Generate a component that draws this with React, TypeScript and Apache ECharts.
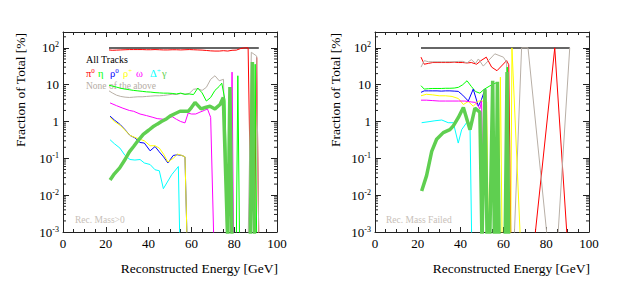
import React, { useEffect, useRef } from 'react';
import * as echarts from 'echarts';

// value used for an empty bin (drawn below the log axis floor)
const Z = 0.0005;

const xTickStep = 20;
const yMin = 0.001;
const yMax = 270;

// ---------- Left panel: Rec. Mass>0 ----------
const leftAll: [number, number][] = [[21.5, 100], [91.5, 100]];
const leftPi0: [number, number][] = [[21.5,88],[23,86],[25,87],[27,88],[29,89],[31,90],[33,90],[35,90],[37,90],[39,89],[41,89],[43,90],[45,89],[47,88],[49,88],[51,89],[53,89],[55,88],[57,89],[59,90],[61,89],[63,88],[65,87],[67,85],[69,83],[71,82],[73,82],[75,84],[77,82],[79,86],[81,87],[83,96],[85,100],[86.5,100],[88,Z],[89.5,Z],[90.5,55],[91.5,Z]];
const leftNone: [number, number][] = [[21.5,6.8],[23,6.0],[25,5.2],[27,4.8],[29,4.6],[31,4.5],[33,4.6],[35,4.7],[37,4.7],[39,4.8],[41,4.9],[43,5.0],[45,5.0],[47,5.1],[49,5.3],[51,5.5],[53,5.4],[55,5.8],[57,5.5],[59,5.8],[61,7.5],[63,7.8],[65,7.0],[67,8.5],[69,14],[71,17.5],[73,12.8],[75,14],[76.5,Z],[86.5,Z],[88,76],[90.5,60],[91.5,Z]];
const leftEta: [number, number][] = [[21.5,9.7],[23,9.2],[25,8.6],[27,8.0],[29,7.6],[31,7.3],[33,7.0],[35,6.8],[37,6.6],[39,6.4],[41,6.3],[43,6.1],[45,6.0],[47,5.9],[49,5.9],[51,5.8],[53,5.6],[55,5.9],[57,5.5],[59,5.6],[61,5.4],[63,8.1],[65,6.0],[67,3.6],[69,4.5],[71,7.0],[73,9.0],[74.2,11],[75.7,3.8],[77,Z],[81,Z],[81.7,17.5],[82.5,Z],[89,Z],[89.8,36],[90.5,Z]];
const leftRho0: [number, number][] = [[22,1.4],[24,1.1],[26.6,0.84],[29,0.6],[31.3,0.42],[33.6,0.36],[36,0.27],[38,0.26],[40.7,0.16],[43,0.21],[45,0.15],[47,0.11],[49,0.075],[51.5,0.12],[53.5,0.125],[55.5,0.12],[57,0.11],[58,Z]];
const leftRhoP: [number, number][] = [[22,1.3],[24,1.0],[26.6,0.8],[29,0.58],[31.3,0.42],[33.6,0.37],[36,0.33],[38,0.3],[40.7,0.22],[43,0.22],[45,0.19],[47,0.13],[49,0.08],[51.5,0.1],[53.5,0.13],[55.5,0.12],[57,0.11],[58,Z]];
const leftOmega: [number, number][] = [[22,3.2],[25,2.7],[28,2.3],[31,2.0],[33,1.9],[36,1.6],[39,1.45],[42,1.3],[44,1.2],[47,1.15],[49,1.25],[51,1.36],[53,1.15],[55,1.0],[57,0.92],[58.5,1.7],[60,1.6],[62,1.6],[64,1.8],[66,2.0],[67.5,2.2],[69,1.3],[70.5,Z],[78.3,Z],[79,22],[79.7,Z]];
const leftDelta: [number, number][] = [[22,0.32],[24,0.25],[26.6,0.19],[29,0.12],[31.3,0.093],[33.6,0.09],[36,0.093],[38,0.075],[40.7,0.068],[43,0.049],[45,0.046],[46.9,0.015],[50.8,0.036],[53.9,0.06],[54.6,Z]];
const leftGamma: [number, number][] = [[22,0.026],[24,0.038],[26.5,0.055],[29,0.093],[31,0.15],[33,0.21],[35,0.3],[37.5,0.45],[40,0.58],[42,0.72],[44,0.85],[46,1.0],[48,1.15],[50,1.4],[52,1.6],[54.7,1.9],[56.5,1.9],[58.5,1.9],[60,2.4],[61.7,3.3],[64.5,2.2],[66.5,2.4],[68.7,2.6],[71,2.2],[73.4,2.9],[74.9,4.5],[77,Z],[78,8.6],[79,Z],[87.5,Z],[88.5,41],[89.5,Z]];

// ---------- Right panel: Rec. Mass Failed ----------
const rightAll: [number, number][] = [[21.5, 100], [91, 100]];
const rightPi0: [number, number][] = [[21.5,56],[23,36],[25,38],[27,40],[29,40],[31,40],[33,40],[35,40],[37,41],[39,40],[41,40],[43,39],[45,40],[47.5,36],[49.5,45],[52,56],[54.5,30],[57,24],[61.5,45],[62.5,35],[63.5,Z],[74,0.0003],[84,100],[90,0.00044]];
const rightNone: [number, number][] = [[21.5,30],[23,45],[25,42],[27,42],[29,42],[31,42],[33,42],[35,42],[37,42],[39,43],[41,43],[43,39],[45,48],[47,38],[48.3,50],[50.6,32],[53,45],[56,69],[60,56],[61.5,41],[62.5,Z],[64.5,0.0001],[68.5,100],[71.5,100],[81,0.00035],[85,0.00028],[91,100]];
const rightEta: [number, number][] = [[21.5,9.4],[23,7.6],[25,7.8],[27,7.9],[29,7.9],[31,7.9],[33,8.0],[35,8.0],[37,8.1],[39,8.5],[41,10],[43,12.8],[45,9],[47,6.5],[49,5.9],[51,7.5],[53.7,9.3],[56.9,11.5],[57.8,Z],[61,Z],[61.8,30],[62.6,Z]];
const rightRho0: [number, number][] = [[21.5,6.2],[23,6.8],[25,6.8],[27,6.8],[29,6.8],[31,6.7],[33,6.8],[35,6.8],[37,6.7],[38.9,6.6],[41,5.2],[43.6,3.6],[45.9,7.6],[48.3,2.6],[49.8,4.0],[51.4,7.6],[52.5,Z]];
const rightRhoP: [number, number][] = [[21.5,5.0],[24,5.5],[27,5.3],[30,5.0],[33,5.0],[36,4.8],[39,4.2],[41.3,2.9],[43.6,3.5],[45.9,2.6],[48.3,3.6],[51,3.6],[52.2,3.4],[53,Z],[57.8,Z],[58.6,16],[59.4,Z],[63.4,Z],[64,100],[68,Z]];
const rightOmega: [number, number][] = [[21.5,3.8],[24,3.8],[27,3.7],[30,3.6],[33,3.6],[36,3.6],[39,3.6],[42,3.6],[45,3.4],[47,3.3],[48.3,2.6],[49,2.2],[49.8,3.6],[50.8,Z]];
const rightDelta: [number, number][] = [[21.8,0.93],[25.7,1.0],[28,1.05],[31.2,1.1],[34.2,0.93],[36.6,0.93],[38.9,0.26],[40.5,0.6],[42.8,0.93],[44.4,0.75],[45.2,Z]];
const rightGamma: [number, number][] = [[21.8,0.013],[24.1,0.034],[26.5,0.155],[28.8,0.33],[31.9,0.5],[35,0.6],[36.6,0.76],[38.9,1.27],[41.3,2.4],[44.4,0.6],[46.7,2.3],[49,1.8],[50,Z],[51.4,7.5],[52.4,Z],[53.6,Z],[55,12.8],[55.8,Z],[56.4,Z],[57.2,12],[58,Z],[60.8,Z],[61.7,22],[62.5,Z]];

// legend symbols: [base, superscript, colour key]
const legendSymbols: [string, string, string][] = [
  ['π', '0', 'pi0'], ['η', '', 'eta'], ['ρ', '0', 'rho0'], ['ρ', '+', 'rhoP'],
  ['ω', '', 'omega'], ['Δ', '+', 'delta'], ['γ', '', 'gamma'],
];

const COLORS: Record<string, string> = {
  all: '#333333',
  pi0: '#ff0000',
  eta: '#00ff00',
  rho0: '#0000ff',
  rhoP: '#ffff00',
  omega: '#ff00ff',
  delta: '#00ffff',
  gamma: '#5fcf50',
  none: '#b8afa6',
};

const FONT = '"Liberation Serif", "Times New Roman", serif';

function minorLogValues(): number[] {
  const out: number[] = [];
  for (let e = -3; e <= 2; e++) {
    for (let m = 2; m <= 9; m++) {
      const v = m * Math.pow(10, e);
      if (v < yMax) out.push(v);
    }
  }
  return out;
}

function yLabel(v: number): string {
  const e = Math.log10(v);
  const r = Math.round(e);
  if (Math.abs(e - r) > 1e-6) return '';
  if (r === 0) return '{b|1}';
  if (r === 1) return '{b|10}';
  return '{b|10}{s|' + (r < 0 ? '-' : '') + Math.abs(r) + '}';
}

export default function App() {
  const ref = useRef<HTMLDivElement>(null);
  useEffect(() => {
    if (!ref.current) return;
    const chart = echarts.init(ref.current, undefined, { renderer: 'svg' });
    const grids = [
      { left: 63, top: 32, width: 214, height: 200 },
      { left: 375, top: 32, width: 214, height: 200 },
    ];
    const xAxes: any[] = [];
    const yAxes: any[] = [];
    grids.forEach((_, gi) => {
      ['bottom', 'top'].forEach((pos) => {
        xAxes.push({
          type: 'value', gridIndex: gi, position: pos, min: 0, max: 100, interval: xTickStep,
          axisLine: { show: true, onZero: false, lineStyle: { color: '#222', width: 1 } },
          axisTick: { show: true, inside: true, length: 5, lineStyle: { color: '#222' } },
          minorTick: { show: true, splitNumber: 4, length: 3, lineStyle: { color: '#222' } },
          splitLine: { show: false },
          axisLabel: pos === 'bottom'
            ? { show: true, fontFamily: FONT, fontSize: 13, color: '#000', margin: 5 }
            : { show: false },
        });
      });
      ['left', 'right'].forEach((pos) => {
        yAxes.push({
          type: 'log', logBase: 10, gridIndex: gi, position: pos, min: yMin, max: yMax,
          axisLine: { show: true, onZero: false, lineStyle: { color: '#222', width: 1 } },
          axisTick: { show: true, inside: true, length: 6, lineStyle: { color: '#222' } },
          minorTick: { show: false },
          splitLine: { show: false },
          axisLabel: pos === 'left'
            ? {
                show: true, margin: 4, formatter: yLabel,
                rich: {
                  b: { fontFamily: FONT, fontSize: 13, color: '#000', lineHeight: 14 },
                  s: { fontFamily: FONT, fontSize: 8, color: '#000', verticalAlign: 'top', lineHeight: 8 },
                },
              }
            : { show: false },
        });
      });
    });

    const line = (name: string, data: [number, number][], color: string, gi: number, width = 1) => ({
      name, type: 'line', data, xAxisIndex: gi * 2, yAxisIndex: gi * 2,
      showSymbol: false, symbol: 'none', clip: true, silent: true,
      lineStyle: { color, width }, itemStyle: { color },
    });

    const minorVals = minorLogValues().map((v) => [50, v]);
    const minorSeries = (gi: number) => ({
      type: 'custom', xAxisIndex: gi * 2, yAxisIndex: gi * 2, silent: true, clip: false,
      data: minorVals,
      renderItem: (params: any, api: any) => {
        const cs = params.coordSys;
        const y = api.coord([api.value(0), api.value(1)])[1];
        return {
          type: 'group',
          children: [
            { type: 'line', shape: { x1: cs.x, y1: y, x2: cs.x + 3, y2: y }, style: { stroke: '#222', lineWidth: 1 } },
            { type: 'line', shape: { x1: cs.x + cs.width - 3, y1: y, x2: cs.x + cs.width, y2: y }, style: { stroke: '#222', lineWidth: 1 } },
          ],
        };
      },
    });

    const panelSeries = (gi: number, d: any) => [
      line('All Tracks', d.all, COLORS.all, gi, 1.5),
      line('pi0', d.pi0, COLORS.pi0, gi),
      line('none', d.none, COLORS.none, gi),
      line('eta', d.eta, COLORS.eta, gi),
      line('rho0', d.rho0, COLORS.rho0, gi),
      line('rhoP', d.rhoP, COLORS.rhoP, gi),
      line('omega', d.omega, COLORS.omega, gi),
      line('delta', d.delta, COLORS.delta, gi),
      line('gamma', d.gamma, COLORS.gamma, gi, 3.5),
    ];

    const txt = (x: number, y: number, text: string, opts: any = {}, extra: any = {}) => ({
      type: 'text', x, y, silent: true, ...extra,
      style: { text, fontFamily: FONT, fontSize: 13, fill: '#000', textVerticalAlign: 'middle', ...opts },
    });

    const legendX = [86, 98, 110, 123, 136, 150, 162];
    const legendItems = legendSymbols.map(([b, s, key], i) => {
      const fill = COLORS[key];
      return {
        type: 'text', x: legendX[i], y: 73, silent: true,
        style: {
          text: s ? '{b|' + b + '}{s|' + s + '}' : '{b|' + b + '}',
          fontFamily: FONT, fontSize: 10.5, textVerticalAlign: 'middle',
          rich: {
            b: { fill, fontFamily: FONT, fontSize: 10.5, lineHeight: 12 },
            s: { fill, fontFamily: FONT, fontSize: 7, verticalAlign: 'top', lineHeight: 7 },
          },
        },
      };
    });

    chart.setOption({
      animation: false,
      grid: grids.map((g) => ({ ...g, containLabel: false, show: false })),
      xAxis: xAxes,
      yAxis: yAxes,
      series: [
        minorSeries(0),
        minorSeries(1),
        ...panelSeries(0, { all: leftAll, pi0: leftPi0, none: leftNone, eta: leftEta, rho0: leftRho0, rhoP: leftRhoP, omega: leftOmega, delta: leftDelta, gamma: leftGamma }),
        ...panelSeries(1, { all: rightAll, pi0: rightPi0, none: rightNone, eta: rightEta, rho0: rightRho0, rhoP: rightRhoP, omega: rightOmega, delta: rightDelta, gamma: rightGamma }),
      ],
      graphic: [
        txt(20, 33, 'Fraction of Total [%]', { textAlign: 'right', fontSize: 13.5 }, { rotation: Math.PI / 2 }),
        txt(335, 33, 'Fraction of Total [%]', { textAlign: 'right', fontSize: 13.5 }, { rotation: Math.PI / 2 }),
        txt(278, 268, 'Reconstructed Energy [GeV]', { textAlign: 'right', fontSize: 13.5 }),
        txt(590, 268, 'Reconstructed Energy [GeV]', { textAlign: 'right', fontSize: 13.5 }),
        txt(86, 59.5, 'All Tracks', { fontSize: 10 }),
        ...legendItems,
        txt(86, 85.5, 'None of the above', { fontSize: 9.5, fill: '#b5ada5' }),
        txt(75, 220, 'Rec. Mass>0', { fontSize: 9.5, fill: '#c8c0b8' }),
        txt(386, 220, 'Rec. Mass Failed', { fontSize: 9.5, fill: '#c8c0b8' }),
      ],
    });
    return () => chart.dispose();
  }, []);
  return <div ref={ref} style={{ position: 'fixed', left: 0, top: 0, width: 623, height: 291, background: '#fff' }} />;
}
